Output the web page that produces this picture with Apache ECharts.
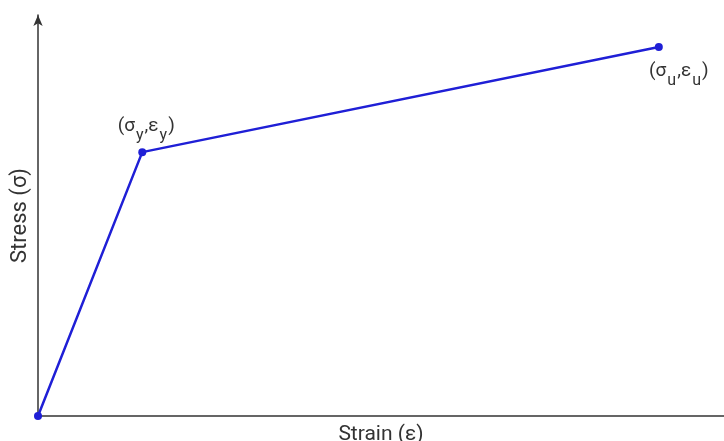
<!DOCTYPE html>
<html>
<head>
<meta charset="utf-8">
<script src="https://cdn.jsdelivr.net/npm/echarts@6/dist/echarts.min.js"></script>
<style>html,body{margin:0;padding:0;background:#fff}#c{width:724px;height:441px}</style>
</head>
<body>
<div id="c"></div>
<script>
const strain = [0, 15.2, 90.5];
const stress = [0, 65.8, 92.0];
const pointLabels = ['', '(σ{s|y},ε{s|y})', '(σ{s|u},ε{s|u})'];
const xName = 'Strain (ε)';
const yName = 'Stress (σ)';

const chart = echarts.init(document.getElementById('c'));
const data = strain.map((x, i) => {
  const d = { value: [x, stress[i]] };
  if (i === 1) d.label = { show: true, position: 'top', distance: 4, offset: [4, 0], formatter: pointLabels[i] };
  if (i === 2) d.label = { show: true, position: 'bottom', distance: 2, offset: [20, 0], formatter: pointLabels[i] };
  return d;
});
const rich = {
  s: { fontSize: 16, color: '#333', fontFamily: 'Roboto, Arial, sans-serif', padding: [20, 1, 0, 1] }
};
chart.setOption({
  animation: false,
  grid: { left: 38, right: 0, top: 15, bottom: 25, outerBoundsMode: 'none', containLabel: false },
  xAxis: {
    type: 'value', min: 0, max: 100,
    name: xName, nameLocation: 'middle', nameGap: 8,
    nameTextStyle: { fontSize: 21, color: '#333', fontFamily: 'Roboto, Arial, sans-serif' },
    axisLine: { show: true, lineStyle: { color: '#333', width: 1.5 } },
    axisTick: { show: false }, axisLabel: { show: false }, splitLine: { show: false }
  },
  yAxis: {
    type: 'value', min: 0, max: 100,
    name: yName, nameLocation: 'middle', nameGap: 7,
    nameTextStyle: { fontSize: 22, color: '#333', fontFamily: 'Roboto, Arial, sans-serif' },
    axisLine: { show: true, symbol: ['none', 'arrow'], symbolSize: [7, 11], symbolOffset: [0, 0], lineStyle: { color: '#333', width: 1.5 } },
    axisTick: { show: false }, axisLabel: { show: false }, splitLine: { show: false }
  },
  series: [{
    type: 'line',
    data: data,
    symbol: 'circle', symbolSize: 8,
    lineStyle: { color: '#1f1fd6', width: 2.5 },
    itemStyle: { color: '#1f1fd6' },
    label: {
      fontSize: 19, color: '#333', fontFamily: 'Roboto, Arial, sans-serif',
      rich: rich
    }
  }]
});
</script>
</body>
</html>
